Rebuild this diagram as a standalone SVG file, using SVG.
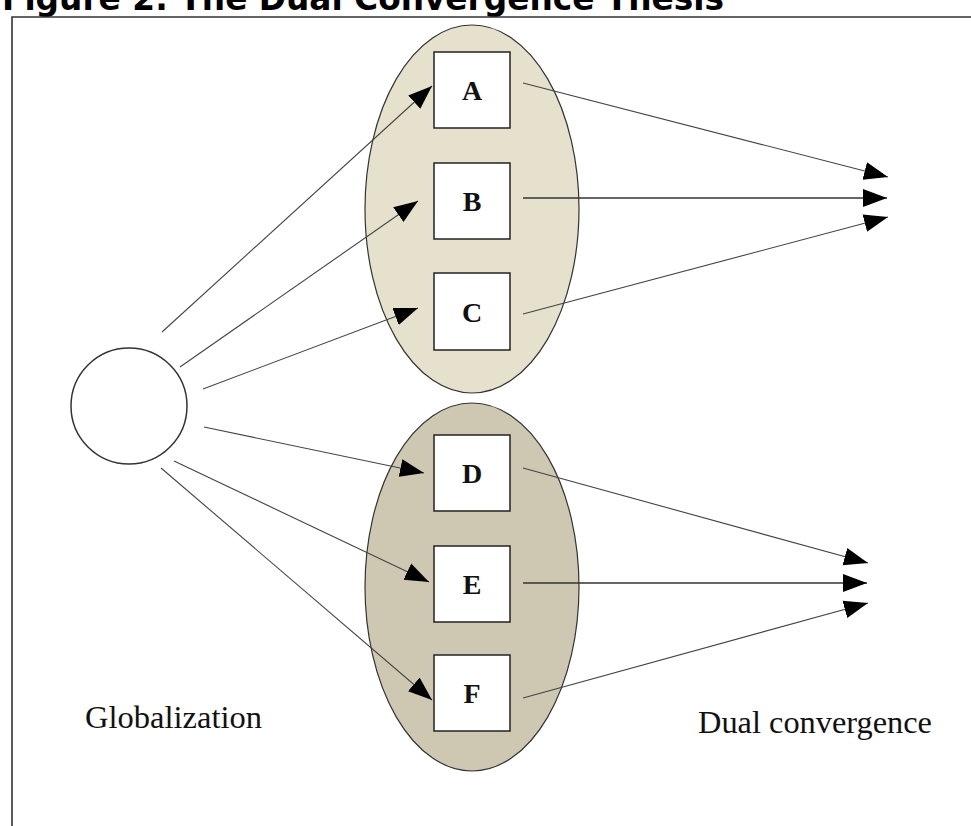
<svg xmlns="http://www.w3.org/2000/svg" width="971" height="826" viewBox="0 0 971 826">
<style>
  .title{font-family:"DejaVu Sans",Verdana,sans-serif;font-weight:bold;font-size:33px;fill:#000}
  .lbl{font-family:"Liberation Serif","DejaVu Serif",serif;font-size:31px;fill:#111}
  .box{fill:#fff;stroke:#222;stroke-width:1.5}
  .let{font-family:"Liberation Serif","DejaVu Serif",serif;font-weight:bold;font-size:28px;fill:#111;text-anchor:middle}
  .ell{stroke:#333;stroke-width:1.2}
  .con{stroke:#444;stroke-width:1.1;fill:none;marker-end:url(#ah)}
  .conh{stroke:#333;stroke-width:1.6;fill:none;marker-end:url(#ah)}
</style>
<defs>
  <marker id="ah" markerUnits="userSpaceOnUse" markerWidth="26" markerHeight="20" refX="24" refY="9" orient="auto" viewBox="0 0 26 18">
    <path d="M0,0 L24,9 L0,18 Z" fill="#000"/>
  </marker>
</defs>
<rect width="971" height="826" fill="#fff"/>
<text class="title" x="2" y="10" textLength="722" lengthAdjust="spacingAndGlyphs">Figure 2: The Dual Convergence Thesis</text>
<path d="M12,826 V17 H971" fill="none" stroke="#333" stroke-width="1.6"/>

<g id="upper-group">
  <ellipse class="ell" cx="472" cy="209" rx="107" ry="184" fill="#e6e1cd"/>
</g>
<g id="lower-group">
  <ellipse class="ell" cx="472" cy="587" rx="107" ry="184" fill="#cec8b2"/>
</g>
<g id="globalization-circle">
  <circle cx="129" cy="406" r="58" fill="#fff" stroke="#333" stroke-width="1.5"/>
</g>

<g id="connectors">
  <line class="con" x1="162" y1="332" x2="432" y2="86"/>
  <line class="con" x1="180" y1="367" x2="418" y2="201"/>
  <line class="con" x1="203" y1="389" x2="418" y2="308"/>
  <line class="con" x1="204" y1="427" x2="424" y2="473"/>
  <line class="con" x1="174" y1="461" x2="429" y2="582"/>
  <line class="con" x1="161" y1="468" x2="432" y2="700"/>
  <line class="con" x1="523" y1="83" x2="888" y2="177"/>
  <line class="conh" x1="523" y1="198" x2="887" y2="198"/>
  <line class="con" x1="523" y1="314" x2="888" y2="217"/>
  <line class="con" x1="523" y1="468" x2="868" y2="563"/>
  <line class="conh" x1="523" y1="583" x2="867" y2="583"/>
  <line class="con" x1="523" y1="698" x2="868" y2="603"/>
</g>

<g id="A"><rect class="box" x="434" y="52" width="76" height="76"/><text class="let" x="472" y="100">A</text></g>
<g id="B"><rect class="box" x="434" y="163" width="76" height="76"/><text class="let" x="472" y="211">B</text></g>
<g id="C"><rect class="box" x="434" y="273" width="76" height="77"/><text class="let" x="472" y="322">C</text></g>
<g id="D"><rect class="box" x="434" y="435" width="76" height="76"/><text class="let" x="472" y="483">D</text></g>
<g id="E"><rect class="box" x="434" y="546" width="76" height="76"/><text class="let" x="472" y="594">E</text></g>
<g id="F"><rect class="box" x="434" y="655" width="76" height="76"/><text class="let" x="472" y="703">F</text></g>

<text class="lbl" x="85" y="728" textLength="177" lengthAdjust="spacingAndGlyphs">Globalization</text>
<text class="lbl" x="698" y="733" textLength="234" lengthAdjust="spacingAndGlyphs">Dual convergence</text>
</svg>
